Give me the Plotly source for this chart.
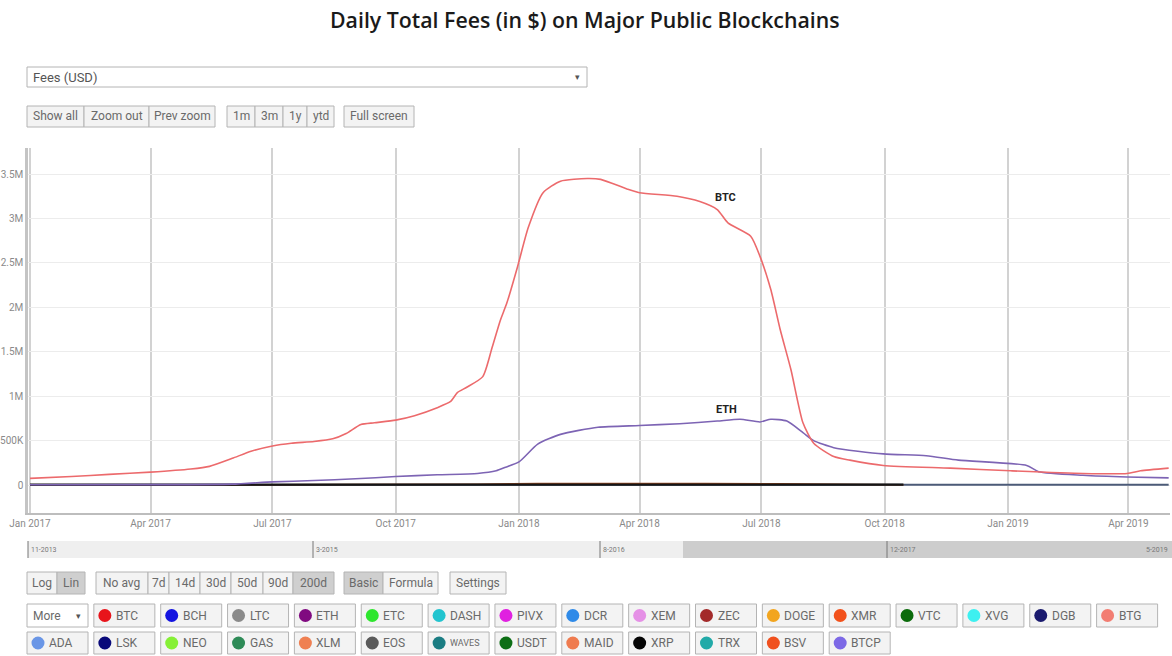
import plotly.graph_objects as go

# ---------------- data ----------------
btc_dates = ["2017-01-01","2017-02-01","2017-03-01","2017-04-01","2017-05-01","2017-05-15","2017-06-01",
             "2017-06-15","2017-07-01","2017-07-15","2017-08-01","2017-08-15","2017-08-25","2017-09-05",
             "2017-09-15","2017-10-01","2017-10-15","2017-11-01","2017-11-11","2017-11-16","2017-11-23",
             "2017-12-05","2017-12-12","2017-12-18","2017-12-23","2017-12-31","2018-01-08","2018-01-19",
             "2018-02-01","2018-02-21","2018-03-03","2018-03-23","2018-04-01","2018-04-29","2018-05-16",
             "2018-05-29","2018-06-06","2018-06-23","2018-06-30","2018-07-08","2018-07-15","2018-07-23",
             "2018-08-01","2018-08-09","2018-08-24","2018-09-05","2018-09-30","2018-11-19","2019-01-03",
             "2019-02-26","2019-03-31","2019-04-10","2019-05-01"]
btc_fees = [75e3,95e3,120e3,145e3,180e3,210e3,300e3,
            380e3,440e3,470e3,490e3,520e3,580e3,680e3,
            700e3,730e3,780e3,870e3,940e3,1040e3,1100e3,
            1220e3,1550e3,1850e3,2050e3,2460e3,2900e3,3290e3,
            3420e3,3450e3,3440e3,3330e3,3290e3,3250e3,3190e3,
            3100e3,2950e3,2800e3,2570e3,2200e3,1750e3,1300e3,
            700e3,470e3,320e3,280e3,220e3,190e3,160e3,
            130e3,130e3,160e3,190e3]

eth_dates = ["2017-01-01","2017-04-01","2017-06-01","2017-07-01","2017-08-01","2017-09-01","2017-10-01",
             "2017-11-01","2017-12-01","2017-12-15","2017-12-22","2018-01-01","2018-01-15","2018-02-01",
             "2018-03-01","2018-04-01","2018-05-01","2018-05-29","2018-06-15","2018-06-30","2018-07-08",
             "2018-07-20","2018-08-01","2018-08-09","2018-08-24","2018-09-30","2018-11-01","2018-11-25",
             "2019-01-15","2019-01-24","2019-02-26","2019-03-31","2019-05-01"]
eth_fees = [3e3,4e3,10e3,35e3,50e3,70e3,95e3,
            115e3,130e3,160e3,200e3,260e3,460e3,570e3,
            650e3,670e3,690e3,720e3,740e3,710e3,740e3,
            720e3,590e3,500e3,420e3,350e3,330e3,280e3,
            220e3,150e3,110e3,90e3,80e3]

small_dates = ["2017-01-01","2017-07-01","2017-12-01","2018-01-15","2018-04-01","2018-07-15","2018-09-15",
               "2018-10-15","2019-01-01","2019-05-01"]
brown_fees = [3e3,4e3,8e3,18e3,18e3,14e3,5e3,3e3,None,None]
black_fees = [4e3,4e3,5e3,8e3,8e3,7e3,5e3,4e3,None,None]
slate_fees = [1e3,1e3,2e3,3e3,3e3,3e3,3e3,3e3,3e3,3e3]

y_ticks = [0, 500e3, 1e6, 1.5e6, 2e6, 2.5e6, 3e6, 3.5e6]
y_tick_text = ["0", "500K", "1M", "1.5M", "2M", "2.5M", "3M", "3.5M"]

title_text = "Daily Total Fees (in $) on Major Public Blockchains"

top_buttons = ["Show all", "Zoom out", "Prev zoom", "1m", "3m", "1y", "ytd", "Full screen"]
row1_buttons = ["Log", "Lin", "No avg", "7d", "14d", "30d", "50d", "90d", "200d", "Basic", "Formula", "Settings"]
row1_active = ["Lin", "200d", "Basic"]

coins_row2 = ["BTC","BCH","LTC","ETH","ETC","DASH","PIVX","DCR","XEM","ZEC","DOGE","XMR","VTC","XVG","DGB","BTG"]
colors_row2 = ["#e8141b","#1414e0","#8a8a8a","#800a80","#2ee62e","#22c4cf","#e020e0","#2f8ae8",
               "#e590e6","#a32a2a","#f2a51f","#f2511b","#0b6b0b","#3ef0f0","#1a1a6e","#f27d72"]
coins_row3 = ["ADA","LSK","NEO","GAS","XLM","EOS","WAVES","USDT","MAID","XRP","TRX","BSV","BTCP"]
colors_row3 = ["#6a96e6","#0a0a7a","#86f036","#2e8b57","#ef8052","#5a5a5a","#1b7d83","#0d6e15",
               "#ef7b4f","#050505","#22aaa8","#f0501e","#7d69e6"]

nav_labels = ["11-2013", "3-2015", "8-2016", "12-2017", "5-2019"]

# ---------------- layout helpers ----------------
W, H = 1172, 656
L, R, T, B = 28, 1170, 148, 513   # plot area in page pixels


def xp(px):
    return (px - L) / (R - L)


def yp(py):
    return (B - py) / (B - T)


fig = go.Figure()

fig.add_trace(go.Scatter(x=small_dates, y=slate_fees, mode="lines", line=dict(color="#4c5b78", width=2),
                         showlegend=False, hoverinfo="skip"))
fig.add_trace(go.Scatter(x=small_dates, y=brown_fees, mode="lines", line=dict(color="#9a4a20", width=1.5, shape="spline"),
                         showlegend=False, hoverinfo="skip"))
fig.add_trace(go.Scatter(x=small_dates, y=black_fees, mode="lines", line=dict(color="#151515", width=2.4),
                         showlegend=False, hoverinfo="skip"))
fig.add_trace(go.Scatter(x=eth_dates, y=eth_fees, mode="lines", name="ETH",
                         line=dict(color="#7d64b4", width=1.6, shape="spline", smoothing=0.6), showlegend=False))
fig.add_trace(go.Scatter(x=btc_dates, y=btc_fees, mode="lines", name="BTC",
                         line=dict(color="#ec6a6c", width=1.6, shape="spline", smoothing=0.6), showlegend=False))

shapes = []
annotations = []

annotations.append(dict(x="2018-06-04", y=3.24e6, xref="x", yref="y", text="<b>BTC</b>", showarrow=False,
                        font=dict(family="Roboto", size=11, color="#222")))
annotations.append(dict(x="2018-06-05", y=0.855e6, xref="x", yref="y", text="<b>ETH</b>", showarrow=False,
                        font=dict(family="Roboto", size=11, color="#222")))

BTN_FONT = dict(family="Roboto", size=12, color="#6a6a6a")


def button(x0, x1, y0, y1, text, fill="#f3f3f3", size=12):
    shapes.append(dict(type="rect", xref="paper", yref="paper", x0=xp(x0), x1=xp(x1), y0=yp(y1), y1=yp(y0),
                       line=dict(color="#b4b4b4", width=1), fillcolor=fill, layer="above"))
    if text:
        annotations.append(dict(x=xp((x0 + x1) / 2), y=yp((y0 + y1) / 2), xref="paper", yref="paper",
                                text=text, showarrow=False, xanchor="center", yanchor="middle",
                                font=dict(family="Roboto", size=size, color="#6a6a6a")))


# dropdown
button(27, 587, 67, 87, "", fill="#ffffff")
annotations.append(dict(x=xp(31), y=yp(77), xref="paper", yref="paper", text="Fees (USD)", showarrow=False,
                        xanchor="left", yanchor="middle", font=dict(family="Roboto", size=13, color="#555")))
annotations.append(dict(x=xp(577), y=yp(77), xref="paper", yref="paper", text="▾", showarrow=False,
                        xanchor="center", yanchor="middle", font=dict(family="DejaVu Sans", size=9, color="#555")))

top_pos = [(27, 84), (84, 149), (149, 215), (227, 255), (255, 283), (283, 307), (307, 334), (344, 414)]
for lab, (a, b) in zip(top_buttons, top_pos):
    button(a, b, 106, 127, lab)

row1_pos = [(27, 57), (57, 85), (96, 148), (148, 169), (169, 200), (200, 231), (231, 263), (263, 293),
            (293, 334), (344, 383), (383, 438), (450, 506)]
for lab, (a, b) in zip(row1_buttons, row1_pos):
    button(a, b, 572, 594, lab, fill="#cfcfcf" if lab in row1_active else "#f3f3f3")

PITCH = 66.85
BW = 61


def coin_button(i, y0, y1, lab, col):
    x0 = 27 + i * PITCH
    x1 = x0 + BW
    button(x0, x1, y0, y1, "", fill="#f3f3f3")
    cy = (y0 + y1) / 2
    cx = x0 + 11
    r = 6.5
    shapes.append(dict(type="circle", xref="paper", yref="paper", x0=xp(cx - r), x1=xp(cx + r),
                       y0=yp(cy + r), y1=yp(cy - r), fillcolor=col, line=dict(width=0), layer="above"))
    annotations.append(dict(x=xp(x0 + 20), y=yp(cy), xref="paper", yref="paper", text=lab, showarrow=False,
                            xanchor="left", yanchor="middle",
                            font=dict(family="Roboto", size=9 if lab == "WAVES" else 12, color="#6a6a6a")))


button(27, 88, 604, 627, "", fill="#ffffff")
annotations.append(dict(x=xp(31), y=yp(615.5), xref="paper", yref="paper", text="More", showarrow=False,
                        xanchor="left", yanchor="middle", font=BTN_FONT))
annotations.append(dict(x=xp(78), y=yp(615.5), xref="paper", yref="paper", text="▾", showarrow=False,
                        xanchor="center", yanchor="middle", font=dict(family="DejaVu Sans", size=9, color="#555")))
for i, (lab, col) in enumerate(zip(coins_row2, colors_row2)):
    coin_button(i + 1, 604, 627, lab, col)
for i, (lab, col) in enumerate(zip(coins_row3, colors_row3)):
    coin_button(i, 632, 654, lab, col)

# navigator strip
shapes.append(dict(type="rect", xref="paper", yref="paper", x0=xp(28), x1=xp(683), y0=yp(558), y1=yp(541),
                   fillcolor="#efefef", line=dict(width=0), layer="above"))
shapes.append(dict(type="rect", xref="paper", yref="paper", x0=xp(683), x1=xp(1172), y0=yp(558), y1=yp(541),
                   fillcolor="#cdcdcd", line=dict(width=0), layer="above"))
nav_x = [28, 313, 600, 887]
for xx, lab in zip(nav_x, nav_labels[:4]):
    shapes.append(dict(type="line", xref="paper", yref="paper", x0=xp(xx), x1=xp(xx), y0=yp(558), y1=yp(541),
                       line=dict(color="#777", width=1), layer="above"))
    annotations.append(dict(x=xp(xx + 1), y=yp(549.5), xref="paper", yref="paper", text=lab, showarrow=False,
                            xanchor="left", yanchor="middle", font=dict(family="Roboto", size=7, color="#777")))
annotations.append(dict(x=xp(1170), y=yp(549.5), xref="paper", yref="paper", text=nav_labels[4], showarrow=False,
                        xanchor="right", yanchor="middle", font=dict(family="Roboto", size=7, color="#777")))

# title (pixel-placed)
annotations.append(dict(x=xp(585), y=yp(19), xref="paper", yref="paper", text=title_text,
                        showarrow=False, xanchor="center", yanchor="middle",
                        font=dict(family="Open Sans", size=21.3, color="#1a1a1a", weight=600)))

fig.update_layout(
    width=W, height=H,
    margin=dict(l=L, r=W - R, t=T, b=H - B, pad=0, autoexpand=False),
    paper_bgcolor="white", plot_bgcolor="white",
    shapes=shapes, annotations=annotations, showlegend=False,
    xaxis=dict(type="date", range=["2016-12-30 12:00", "2019-05-02"], dtick="M3", tick0="2017-01-01",
               tickformat="%b %Y", showgrid=True, gridcolor="#d2d2d2", gridwidth=1.5, automargin=False,
               showline=True, linecolor="#bdbdbd", linewidth=1.5, ticks="", zeroline=False,
               tickfont=dict(family="Roboto", size=10, color="#8a8a8a")),
    yaxis=dict(range=[-315e3, 3793e3], tickvals=y_ticks, ticktext=y_tick_text, showgrid=True, automargin=False,
               gridcolor="#ececec", gridwidth=1, showline=True, linecolor="#c4c4c4", linewidth=2.5,
               zeroline=False, ticks="", tickfont=dict(family="Roboto", size=10, color="#8a8a8a")),
)

fig.write_html("out.html", config={"displayModeBar": False},
               post_script="document.body.style.margin='0';document.body.style.overflow='hidden';")
